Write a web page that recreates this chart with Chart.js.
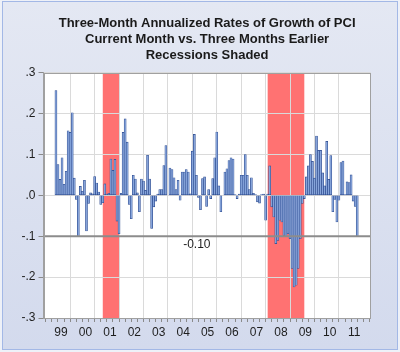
<!DOCTYPE html>
<html><head><meta charset="utf-8">
<script src="https://cdn.jsdelivr.net/npm/chart.js@4.4.0/dist/chart.umd.min.js"></script>
<style>
html,body{margin:0;padding:0;background:#eef1f8;width:400px;height:352px;overflow:hidden;}
#frame{position:absolute;left:2px;top:1px;width:394px;height:347px;border:1px solid #a3b8e6;background:linear-gradient(#e4e8f3,#d3daed);}
#c{position:absolute;left:0;top:0;}
</style></head><body>
<div id="frame"></div>
<canvas id="c" width="400" height="352"></canvas>
<script>
// ---- data ----
const firstYear = 1999;
const firstMonth = 4; // series starts April 1999
const growth1999 = [0.256, 0.075, 0.039, 0.092, 0.027, 0.059, 0.158, 0.154, 0.202];
const growth2000 = [0.042, -0.010, -0.100, 0.022, 0.010, 0.037, -0.087, -0.020, 0.006, 0.004, 0.046, 0.030];
const growth2001 = [0.008, -0.022, -0.018, 0.028, 0.003, 0.005, 0.089, 0.061, 0.088, -0.063, -0.094, 0.005];
const growth2002 = [0.154, 0.187, 0.130, -0.022, -0.057, 0.049, 0.040, 0.006, -0.040, 0.040, 0.035, 0.012];
const growth2003 = [0.098, 0.040, -0.081, -0.028, -0.014, 0.003, 0.014, 0.014, 0.073, 0.122, 0.000, 0.067];
const growth2004 = [0.063, 0.043, 0.014, 0.037, -0.012, 0.057, 0.057, 0.063, 0.057, 0.004, 0.108, 0.149];
const growth2005 = [0.049, -0.005, -0.035, 0.041, 0.045, -0.027, 0.014, -0.008, 0.041, 0.092, 0.155, 0.023];
const growth2006 = [-0.040, 0.000, 0.057, 0.065, 0.085, 0.092, 0.089, 0.002, -0.008, 0.003, 0.049, 0.049];
const growth2007 = [0.100, 0.049, 0.014, 0.043, 0.005, 0.002, -0.016, -0.019, 0.002, 0.003, -0.061, 0.003];
const growth2008 = [0.072, -0.028, -0.053, -0.118, -0.110, -0.061, -0.065, -0.098, -0.100, -0.094, -0.106, -0.179];
const growth2009 = [-0.224, -0.220, -0.179, -0.106, -0.020, -0.008, 0.045, 0.072, 0.100, 0.083, 0.042, 0.145];
const growth2010 = [0.110, 0.110, 0.055, 0.023, 0.132, 0.039, 0.097, -0.040, -0.010, -0.065, -0.012, 0.080];
const growth2011 = [0.084, 0.002, 0.033, 0.031, 0.050, -0.014, -0.027, -0.100];

const recessionStarts = ['2001-03', '2007-12'];
const recessionEnds   = ['2001-11', '2009-06'];
const refLineValue = -0.10;
const refLineLabel = '-0.10';
const xTickLabels = ['99','00','01','02','03','04','05','06','07','08','09','10','11'];
const yTickValues = [-0.3, -0.2, -0.1, 0.0, 0.1, 0.2, 0.3];
const yTickLabels = ['-.3','-.2','-.1','.0','.1','.2','.3'];

// ---- build points (x = months since Jan 1999, bar centred in its month) ----
const yearly = [growth1999, growth2000, growth2001, growth2002, growth2003, growth2004, growth2005,
                growth2006, growth2007, growth2008, growth2009, growth2010, growth2011];
const points = [];
yearly.forEach((arr, yi) => {
  const startM = yi === 0 ? firstMonth - 1 : 0;
  arr.forEach((v, k) => points.push({x: yi * 12 + startM + k + 0.5, y: v}));
});
function monthIndex(s) { const [y, m] = s.split('-').map(Number); return (y - firstYear) * 12 + (m - 1); }

const FONT = "'Liberation Sans', Arial, sans-serif";
Chart.defaults.font.family = FONT;

const backdrop = {
  id: 'backdrop',
  beforeDraw(chart) {
    const {ctx, chartArea: a, scales: {x}} = chart;
    ctx.save();
    ctx.fillStyle = '#ffffff';
    ctx.fillRect(a.left, a.top, a.right - a.left, a.bottom - a.top);
    ctx.fillStyle = '#ff7272';
    recessionStarts.forEach((s, i) => {
      const x0 = x.getPixelForValue(monthIndex(s) + 0.5);
      const x1 = x.getPixelForValue(monthIndex(recessionEnds[i]) + 0.5);
      ctx.fillRect(x0, a.top, x1 - x0, a.bottom - a.top);
    });
    ctx.restore();
  }
};
const overlay = {
  id: 'overlay',
  afterDatasetsDraw(chart) {
    const {ctx, chartArea: a, scales: {x, y}} = chart;
    ctx.save();
    const yy = y.getPixelForValue(refLineValue);
    ctx.strokeStyle = '#8c8c8c';
    ctx.lineWidth = 2;
    ctx.beginPath(); ctx.moveTo(a.left, yy); ctx.lineTo(a.right, yy); ctx.stroke();
    ctx.fillStyle = '#1e1e1e';
    ctx.font = '12px ' + FONT;
    ctx.textAlign = 'center';
    ctx.textBaseline = 'middle';
    ctx.fillText(refLineLabel, x.getPixelForValue(72.7), yy + 8);
    ctx.strokeStyle = '#a0a0a0';
    ctx.lineWidth = 1;
    ctx.strokeRect(Math.round(a.left) + 0.5, Math.round(a.top) + 0.5, Math.round(a.right - a.left) - 1, Math.round(a.bottom - a.top));
    ctx.restore();
  }
};

new Chart(document.getElementById('c'), {
  type: 'bar',
  data: {
    datasets: [{
      data: points,
      backgroundColor: '#86a4da',
      borderColor: '#29478c',
      borderWidth: 0.6,
      borderSkipped: false,
      barPercentage: 1,
      categoryPercentage: 1
    }]
  },
  options: {
    responsive: false,
    animation: false,
    layout: {padding: {left: 0, right: 29.3, top: 0, bottom: 0}},
    plugins: {
      legend: {display: false},
      tooltip: {enabled: false},
      title: {
        display: true,
        fullSize: false,
        text: ['Three-Month Annualized Rates of Growth of PCI', 'Current Month vs. Three Months Earlier', 'Recessions Shaded'],
        color: '#1a1a1a',
        font: {size: 13, weight: 'bold', family: FONT, lineHeight: 1.2},
        padding: {top: 16, bottom: 9.9}
      }
    },
    scales: {
      x: {
        type: 'linear',
        min: -1.1,
        max: 156.6,
        afterBuildTicks(axis) {
          const t = [];
          for (let v = 0; v <= 156; v += 3) t.push({value: v});
          axis.ticks = t;
        },
        afterFit(axis) { axis.height = 34; },
        ticks: {
          autoSkip: false, maxRotation: 0, padding: 3,
          color: '#1e1e1e', font: {size: 12},
          callback: (v) => (v % 12 === 6 ? xTickLabels[(v - 6) / 12] : '')
        },
        grid: {
          color: (c) => (c.tick && c.tick.value % 12 === 0 && c.tick.value > 0 && c.tick.value < 156 ? '#dadada' : 'rgba(0,0,0,0)'),
          tickColor: '#8a8a8a',
          tickLength: 4,
          drawTicks: true
        },
        border: {display: true, color: '#a0a0a0'}
      },
      y: {
        min: -0.3, max: 0.3,
        afterBuildTicks(axis) { axis.ticks = yTickValues.map(v => ({value: v})); },
        afterFit(axis) { axis.width = 43.5; },
        ticks: {
          padding: 3, color: '#1e1e1e', font: {size: 12},
          callback: (v) => { const i = yTickValues.findIndex(t => Math.abs(t - v) < 1e-9); return i >= 0 ? yTickLabels[i] : ''; }
        },
        grid: {color: '#dadada', tickColor: '#8a8a8a', tickLength: 5},
        border: {display: true, color: '#a0a0a0'}
      }
    }
  },
  plugins: [backdrop, overlay]
});
</script>
</body></html>
